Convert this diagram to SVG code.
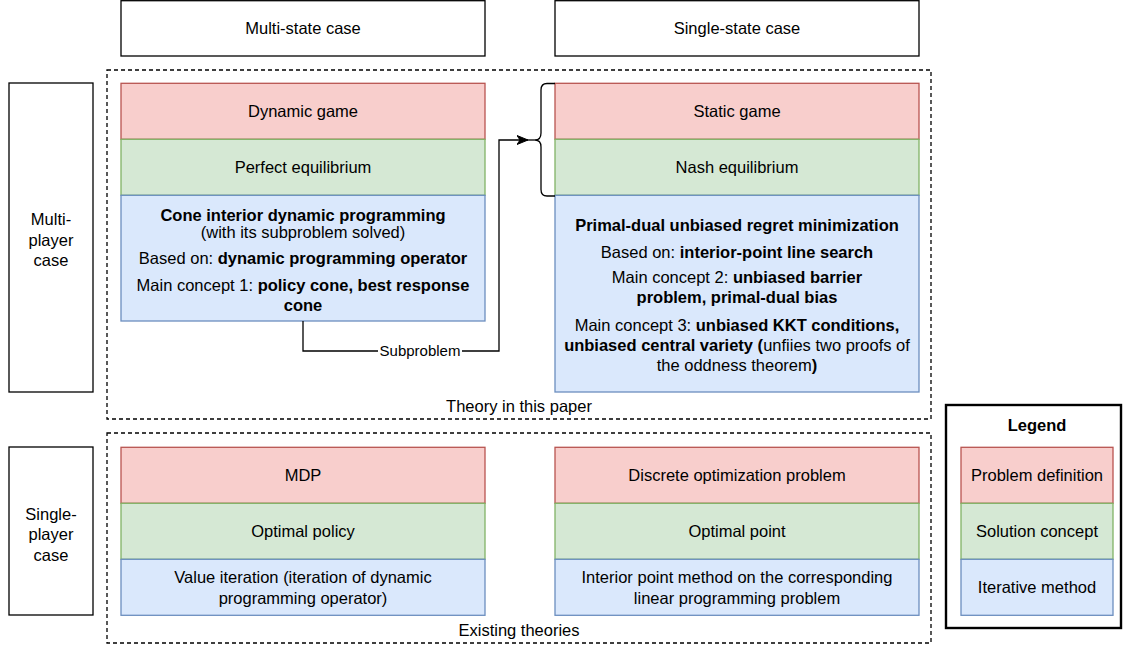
<svg xmlns="http://www.w3.org/2000/svg" width="1124" height="646" viewBox="0 0 1124 646">
<defs>
<style>
text{font-family:"Liberation Sans",Arial,Helvetica,sans-serif;font-size:16.5px;fill:#000;text-anchor:middle}
.b{font-weight:bold}
.hdr{fill:#fff;stroke:#000;stroke-width:1.3}
.dash{fill:none;stroke:#000;stroke-width:1.3;stroke-dasharray:4 3}
.red{fill:#f8cecc;stroke:#b85450;stroke-width:1.3}
.green{fill:#d5e8d4;stroke:#82b366;stroke-width:1.3}
.blue{fill:#dae8fc;stroke:#6c8ebf;stroke-width:1.3}
.edge{fill:none;stroke:#000;stroke-width:1.3}
.lbl{font-size:15px}
</style>
<marker id="arr" markerUnits="userSpaceOnUse" markerWidth="12" markerHeight="10" refX="11" refY="5" orient="auto">
<path d="M0,0.5 L11,5 L0,9.5 L3,5 Z" fill="#000" stroke="#000" stroke-width="1"/>
</marker>
</defs>

<g id="header-multistate">
<rect class="hdr" x="121" y="0.7" width="364" height="55.3"/>
<text x="303" y="34">Multi-state case</text>
</g>
<g id="header-singlestate">
<rect class="hdr" x="555" y="0.7" width="364" height="55.3"/>
<text x="737" y="34">Single-state case</text>
</g>

<g id="row-multiplayer">
<rect class="hdr" x="9" y="83" width="84" height="309"/>
<text x="51" y="225">Multi-</text>
<text x="51" y="245.5">player</text>
<text x="51" y="266">case</text>
</g>
<g id="row-singleplayer">
<rect class="hdr" x="9" y="447" width="84" height="168"/>
<text x="51" y="519.5">Single-</text>
<text x="51" y="540">player</text>
<text x="51" y="560.5">case</text>
</g>

<g id="theory-group">
<rect class="dash" x="107" y="70" width="824" height="349"/>
<text x="519" y="412">Theory in this paper</text>
</g>
<g id="existing-group">
<rect class="dash" x="107" y="433" width="824" height="210"/>
<text x="519" y="636">Existing theories</text>
</g>

<g id="dynamic-game">
<rect class="red" x="121" y="83.3" width="364" height="56"/>
<text x="303" y="117">Dynamic game</text>
</g>
<g id="perfect-equilibrium">
<rect class="green" x="121" y="139.3" width="364" height="56"/>
<text x="303" y="173">Perfect equilibrium</text>
</g>
<g id="cone-interior-dp">
<rect class="blue" x="121" y="195.3" width="364" height="125.7"/>
<text x="303" y="221"><tspan class="b">Cone interior dynamic programming</tspan></text>
<text x="303" y="238">(with its subproblem solved)</text>
<text x="303" y="264">Based on: <tspan class="b">dynamic programming operator</tspan></text>
<text x="303" y="290.5">Main concept 1: <tspan class="b">policy cone, best response</tspan></text>
<text x="303" y="310.5"><tspan class="b">cone</tspan></text>
</g>

<g id="static-game">
<rect class="red" x="555" y="83.3" width="364" height="56"/>
<text x="737" y="117">Static game</text>
</g>
<g id="nash-equilibrium">
<rect class="green" x="555" y="139.3" width="364" height="56"/>
<text x="737" y="173">Nash equilibrium</text>
</g>
<g id="primal-dual">
<rect class="blue" x="555" y="195.3" width="364" height="196.7"/>
<text x="737" y="231"><tspan class="b">Primal-dual unbiased regret minimization</tspan></text>
<text x="737" y="257.7">Based on: <tspan class="b">interior-point line search</tspan></text>
<text x="737" y="282.7">Main concept 2: <tspan class="b">unbiased barrier</tspan></text>
<text x="737" y="303.3"><tspan class="b">problem, primal-dual bias</tspan></text>
<text x="737" y="331">Main concept 3: <tspan class="b">unbiased KKT conditions,</tspan></text>
<text x="737" y="351"><tspan class="b">unbiased central variety (</tspan>unfiies two proofs of</text>
<text x="737" y="371">the oddness theorem<tspan class="b">)</tspan></text>
</g>

<g id="mdp">
<rect class="red" x="121" y="447.3" width="364" height="56"/>
<text x="303" y="481">MDP</text>
</g>
<g id="optimal-policy">
<rect class="green" x="121" y="503.3" width="364" height="56"/>
<text x="303" y="537">Optimal policy</text>
</g>
<g id="value-iteration">
<rect class="blue" x="121" y="559.3" width="364" height="56"/>
<text x="303" y="582.7">Value iteration (iteration of dynamic</text>
<text x="303" y="604.3">programming operator)</text>
</g>

<g id="discrete-opt">
<rect class="red" x="555" y="447.3" width="364" height="56"/>
<text x="737" y="481">Discrete optimization problem</text>
</g>
<g id="optimal-point">
<rect class="green" x="555" y="503.3" width="364" height="56"/>
<text x="737" y="537">Optimal point</text>
</g>
<g id="interior-point">
<rect class="blue" x="555" y="559.3" width="364" height="56"/>
<text x="737" y="582.7">Interior point method on the corresponding</text>
<text x="737" y="604.3">linear programming problem</text>
</g>

<g id="legend">
<rect x="946" y="405" width="175" height="223" fill="#fff" stroke="#000" stroke-width="2.4"/>
<text x="1037" y="431" class="b">Legend</text>
<rect class="red" x="961" y="447.3" width="152" height="56"/>
<text x="1037" y="481">Problem definition</text>
<rect class="green" x="961" y="503.3" width="152" height="56"/>
<text x="1037" y="537">Solution concept</text>
<rect class="blue" x="961" y="559.3" width="152" height="56"/>
<text x="1037" y="593">Iterative method</text>
</g>

<g id="brace">
<path class="edge" d="M555,83.5 L547,83.5 Q541,83.5 541,90 L541,133 Q541,140 535,140 Q541,140 541,147 L541,189.5 Q541,196 547,196 L555,196"/>
<path class="edge" d="M528,140 H535"/>
</g>

<g id="connectors">
<path class="edge" d="M303,321 V351 H499 V140 H528" marker-end="url(#arr)"/>
<rect x="378" y="342" width="84" height="17" fill="#fff"/>
<text class="lbl" x="420" y="356">Subproblem</text>
</g>
</svg>
